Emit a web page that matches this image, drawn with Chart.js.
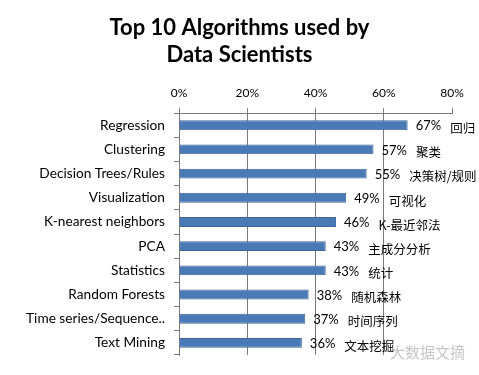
<html>
<head>
<title>Top 10 Algorithms</title>
<script src="https://cdn.jsdelivr.net/npm/chart.js@4.4.1/dist/chart.umd.min.js"></script>
<style>
body{ margin:0; background:#fff; }
#wrap{ width:479px; height:375px; }
</style>
</head>
<body>
<div id="wrap"><canvas id="myChart"></canvas></div>
<script>
var algorithms = [ 'Regression', 'Clustering', 'Decision Trees/Rules', 'Visualization', 'K-nearest neighbors',
  'PCA', 'Statistics', 'Random Forests', 'Time series/Sequence..', 'Text Mining' ];
var percents = [ 67, 57, 55, 49, 46, 43, 43, 38, 37, 36 ];
var cnNames = [ '回归', '聚类', '决策树/规则', '可视化', 'K-最近邻法', '主成分分析', '统计', '随机森林', '时间序列', '文本挖掘' ];
var xTicks = [ 0, 20, 40, 60, 80 ];
var titleLines = [ 'Top 10 Algorithms used by', 'Data Scientists' ];
var watermark = '大数据文摘';

var latin = 'Lato, "Open Sans", sans-serif';
var cjk = '"Noto Sans CJK SC", sans-serif';

//. labels to the right of each bar: "67%   回归"
var barLabels = {
  id: 'barLabels',
  afterDatasetsDraw: function( chart ){
    var ctx = chart.ctx;
    var meta = chart.getDatasetMeta( 0 );
    ctx.save();
    ctx.fillStyle = '#000';
    ctx.textBaseline = 'middle';
    meta.data.forEach( function( bar, i ){
      var x = bar.x + 8;
      ctx.font = '13px ' + latin;
      var txt = percents[i] + '%';
      ctx.fillText( txt, x, bar.y + 1 );
      var w = ctx.measureText( txt ).width;
      ctx.font = '12.5px ' + cjk;
      ctx.fillText( cnNames[i], x + w + 9, bar.y + 3 );
    });
    //. watermark
    ctx.font = '15px ' + cjk;
    ctx.fillStyle = 'rgba(150,150,150,0.55)';
    ctx.fillText( watermark, 390, 352 );
    ctx.restore();
  }
};

var ctx = document.getElementById( 'myChart' ).getContext( '2d' );
var myChart = new Chart( ctx, {
  type: 'bar',
  data: {
    labels: algorithms,
    datasets: [{
      data: percents,
      backgroundColor: '#4a7ab6',
      borderColor: '#3d6699',
      borderWidth: 1,
      barPercentage: 0.82,
      categoryPercentage: 0.5
    }]
  },
  options: {
    indexAxis: 'y',
    responsive: true,
    maintainAspectRatio: false,
    animation: false,
    layout: { padding: { left: 0, right: 0, top: 0, bottom: 20 } },
    plugins: {
      legend: { display: false },
      tooltip: { enabled: false },
      title: {
        display: true,
        text: titleLines,
        color: '#000',
        font: { family: latin, size: 22, weight: 'bold', lineHeight: 1.23 },
        padding: { top: 14, bottom: 4 }
      }
    },
    scales: {
      x: {
        position: 'top',
        min: 0,
        max: 80,
        afterBuildTicks: function( scale ){
          scale.ticks = xTicks.map( function( v ){ return { value: v }; } );
        },
        afterFit: function( scale ){ scale.height = 41; },
        ticks: {
          color: '#000',
          font: { family: latin, size: 12 },
          padding: 8,
          callback: function( v ){ return v + '%'; }
        },
        grid: {
          color: function( c ){
            var v = c.tick ? c.tick.value : 0;
            return ( v > 0 && v < 80 ) ? '#7a7a7a' : 'rgba(0,0,0,0)';
          },
          tickColor: '#7a7a7a',
          tickLength: 5,
          lineWidth: 1
        },
        border: { display: true, color: '#7a7a7a' }
      },
      y: {
        afterFit: function( scale ){ scale.width = 179; },
        ticks: {
          color: '#000',
          font: { family: latin, size: 13.7 },
          padding: 9
        },
        grid: {
          drawOnChartArea: false,
          offset: true,
          tickColor: '#7a7a7a',
          tickLength: 5
        },
        border: { display: true, color: '#7a7a7a' }
      },
      //. empty right margin, keeps the title centred on the whole canvas
      yRight: {
        type: 'category',
        position: 'right',
        afterFit: function( scale ){ scale.width = 27; },
        ticks: { display: false },
        grid: { display: false },
        border: { display: false }
      }
    }
  },
  plugins: [ barLabels ]
});
</script>
</body>
</html>
